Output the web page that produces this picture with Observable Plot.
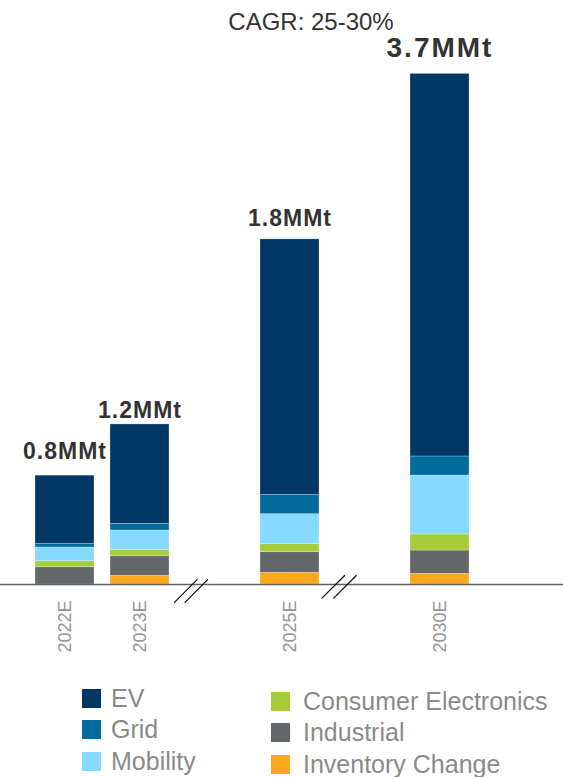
<!DOCTYPE html>
<html>
<head>
<meta charset="utf-8">
<script src="https://cdn.jsdelivr.net/npm/d3@7"></script>
<script src="https://cdn.jsdelivr.net/npm/@observablehq/plot@0.6"></script>
<style>
  html, body { margin: 0; padding: 0; background: #fff; }
  #wrap { position: relative; width: 563px; height: 777px; font-family: "Liberation Sans", Arial, sans-serif; }
  #chart svg { display: block; }
  g[font-weight="bold"] text { letter-spacing: 1px; }
  g[font-size="28"] text { letter-spacing: 2px; }
  .sw { position: absolute; width: 19px; height: 19px; }
  .lt { position: absolute; font-size: 25px; line-height: 25px; color: #8a8a8a; white-space: nowrap; }
</style>
</head>
<body>
<div id="wrap">
  <div id="chart"></div>
  <div id="legend"></div>
</div>
<script>
// ---- data (MMt) ----
const years = ["2022E", "2023E", "2025E", "2030E"];
const slots = ["2022E", "2023E", "gap1", "2025E", "gap2", "2030E"];
const seriesBottomUp = ["Inventory Change", "Industrial", "Consumer Electronics", "Mobility", "Grid", "EV"];
const ev         = [0.495, 0.72, 1.85, 2.77];
const grid       = [0.025, 0.048, 0.14, 0.138];
const mobility   = [0.10, 0.14, 0.217, 0.427];
const consumer   = [0.043, 0.046, 0.058, 0.116];
const industrial = [0.125, 0.142, 0.149, 0.169];
const inventory  = [0, 0.063, 0.085, 0.077];
const totalLabels = ["0.8MMt", "1.2MMt", "1.8MMt", "3.7MMt"];
const cagrLabel = "CAGR: 25-30%";
const legendLeft = ["EV", "Grid", "Mobility"];
const legendRight = ["Consumer Electronics", "Industrial", "Inventory Change"];

const colors = {
  "EV": "#003764",
  "Grid": "#006b9c",
  "Mobility": "#87daff",
  "Consumer Electronics": "#a6cd39",
  "Industrial": "#636769",
  "Inventory Change": "#fba81c"
};

const bySeries = {
  "Inventory Change": inventory,
  "Industrial": industrial,
  "Consumer Electronics": consumer,
  "Mobility": mobility,
  "Grid": grid,
  "EV": ev
};

const rows = [];
years.forEach((yr, i) => {
  seriesBottomUp.forEach(s => rows.push({year: yr, series: s, value: bySeries[s][i]}));
});
const totals = years.map((yr, i) => ({
  year: yr,
  total: seriesBottomUp.reduce((a, s) => a + bySeries[s][i], 0),
  label: totalLabels[i]
}));

const labelDy = [-17, -6, -13, -16.5];
const labelSize = [23, 23, 23, 28];

const slash = {
  draw(context, l) { context.moveTo(0, 0); context.lineTo(0, -l); }
};
const breaks = [
  {slot: "gap1", dx: -29.2, dy: 6.5},
  {slot: "gap1", dx: -18.7, dy: 6.5},
  {slot: "gap2", dx: -31.7, dy: 2.3},
  {slot: "gap2", dx: -20.0, dy: 2.3}
];

const chart = Plot.plot({
  width: 563,
  height: 670,
  marginLeft: 27,
  marginRight: 86,
  marginTop: 73,
  marginBottom: 86,
  style: {fontFamily: "'Liberation Sans', Arial, sans-serif", background: "#fff"},
  x: {domain: slots, range: [27, 477], paddingInner: 16 / 75, paddingOuter: 8 / 75, axis: null},
  y: {domain: [0, 3.7], range: [584, 73], axis: null},
  color: {domain: seriesBottomUp, range: seriesBottomUp.map(s => colors[s])},
  marks: [
    Plot.barY(rows, Plot.stackY({
      x: "year", y: "value", fill: "series", order: null,
      stroke: "white", strokeOpacity: 0.35, strokeWidth: 0.75
    })),
    Plot.ruleY([0], {stroke: "#5f5f5f", strokeWidth: 1.6, insetLeft: -27, insetRight: -86}),
    Plot.axisX(years, {tickSize: 0, tickPadding: 16, tickRotate: -90, fontSize: 18, color: "#959595", label: null}),
    ...breaks.map(b => Plot.vector([b.slot], {
      x: d => d, y: () => 0, dx: b.dx, dy: b.dy,
      length: 32, rotate: 45, anchor: "middle", shape: slash,
      stroke: "#111", strokeWidth: 1.2
    })),
    ...totals.map((t, i) => Plot.text([t], {
      x: "year", y: "total", text: "label", dy: labelDy[i],
      lineAnchor: "bottom", fontWeight: "bold", fontSize: labelSize[i], fill: "#333"
    })),
    Plot.text([cagrLabel], {
      x: () => "2025E", y: () => 3.7, text: d => d, dx: 21, dy: -44,
      lineAnchor: "bottom", fontSize: 24, fill: "#333"
    })
  ]
});
document.getElementById("chart").appendChild(chart);

// ---- legend ----
const legend = document.getElementById("legend");
function addItem(name, sqLeft, sqTop, textLeft) {
  const sw = document.createElement("div");
  sw.className = "sw";
  sw.style.left = sqLeft + "px";
  sw.style.top = sqTop + "px";
  sw.style.background = colors[name];
  legend.appendChild(sw);
  const t = document.createElement("div");
  t.className = "lt";
  t.style.left = textLeft + "px";
  t.style.top = (sqTop - 3) + "px";
  t.textContent = name;
  legend.appendChild(t);
}
legendLeft.forEach((n, i) => addItem(n, 82, 689 + 31.4 * i, 111));
legendRight.forEach((n, i) => addItem(n, 271, 692 + 31.4 * i, 303));
</script>
</body>
</html>
